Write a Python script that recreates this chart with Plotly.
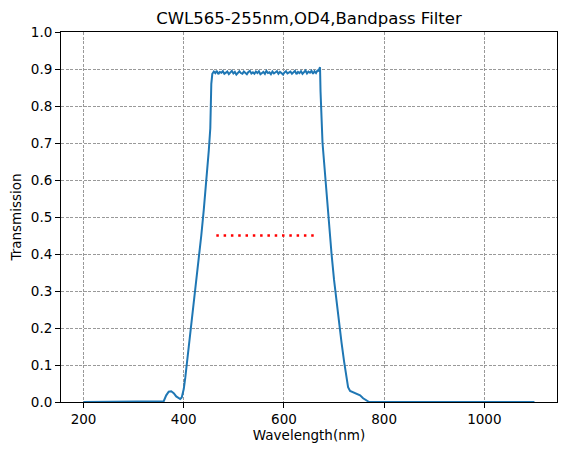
import plotly.graph_objects as go

rise_wl = [200, 355, 360, 365, 370, 375, 380, 385, 390, 393, 396, 400, 403, 406,
           410, 415, 420, 425, 430, 435, 440, 445, 450, 453, 455]
rise_t = [0.0, 0.0, 0.002, 0.018, 0.028, 0.029, 0.024, 0.015, 0.009, 0.008, 0.012,
          0.035, 0.065, 0.10, 0.15, 0.21, 0.27, 0.33, 0.39, 0.45, 0.52, 0.59,
          0.68, 0.74, 0.86]

# passband, sampled every 3 nm from 457 to 667
band_wl = list(range(457, 668, 3))
band_t = [0.887, 0.893, 0.889, 0.895, 0.886, 0.892, 0.890, 0.894, 0.887, 0.891,
          0.893, 0.886, 0.890, 0.895, 0.888, 0.892, 0.885, 0.891, 0.894, 0.889,
          0.887, 0.893, 0.890, 0.886, 0.892, 0.895, 0.888, 0.891, 0.887, 0.893,
          0.889, 0.894, 0.886, 0.890, 0.892, 0.887, 0.895, 0.889, 0.891, 0.886,
          0.893, 0.888, 0.890, 0.894, 0.887, 0.892, 0.889, 0.885, 0.891, 0.894,
          0.888, 0.890, 0.893, 0.887, 0.891, 0.895, 0.886, 0.892, 0.889, 0.894,
          0.887, 0.891, 0.896, 0.888, 0.893, 0.890, 0.895, 0.887, 0.894, 0.889,
          0.896]

fall_wl = [669, 671, 672, 673, 675, 677, 680, 683, 686, 690, 695, 700, 705, 710,
           715, 720, 724, 728, 732, 737, 742, 747, 752, 758, 764, 770, 1100]
fall_t = [0.895, 0.903, 0.905, 0.84, 0.76, 0.70, 0.65, 0.60, 0.54, 0.46, 0.40,
          0.33, 0.27, 0.21, 0.16, 0.11, 0.07, 0.04, 0.03, 0.027, 0.024, 0.022,
          0.018, 0.01, 0.004, 0.0, 0.0]

wavelength = rise_wl + band_wl + fall_wl
transmission = rise_t + band_t + fall_t

# half-maximum marker line
half_wl = [465, 665]
half_t = [0.45, 0.45]

x_ticks = [200, 400, 600, 800, 1000]
y_ticks = [0.0, 0.1, 0.2, 0.3, 0.4, 0.5, 0.6, 0.7, 0.8, 0.9, 1.0]

fig = go.Figure()
fig.add_trace(go.Scatter(x=wavelength, y=transmission, mode="lines",
                         line=dict(color="#1f77b4", width=2)))
fig.add_trace(go.Scatter(x=half_wl, y=half_t, mode="lines",
                         line=dict(color="red", width=2.5, dash="2.5px,4.8px")))

axis_style = dict(showline=True, mirror=True, linecolor="black", linewidth=1,
                  ticks="outside", ticklen=5, tickcolor="black", tickwidth=1,
                  showgrid=True, gridcolor="#999999", gridwidth=0.5, griddash="3px,1.5px",
                  zeroline=False, automargin=False,
                  tickfont=dict(size=13.5, color="black"))

# the page body adds an 8px offset, so the figure is 8px smaller than the window
fig.update_layout(
    width=559, height=447,
    margin=dict(l=53, r=10, t=24, b=53, autoexpand=False),
    paper_bgcolor="white", plot_bgcolor="white",
    showlegend=False,
    font=dict(family="DejaVu Sans", color="black"),
    title=dict(text="CWL565-255nm,OD4,Bandpass Filter", x=0.5, xref="paper",
               y=1 - 10 / 447, yanchor="middle", font=dict(size=16.5, color="black")),
    xaxis=dict(range=[155, 1145], tickvals=x_ticks, ticktext=[str(v) for v in x_ticks],
               title=dict(text="Wavelength(nm)", font=dict(size=13.5), standoff=4),
               **axis_style),
    yaxis=dict(range=[0, 1], tickvals=y_ticks, ticktext=["%.1f" % v for v in y_ticks],
               title=dict(text="Transmission", font=dict(size=13.5), standoff=7),
               **axis_style),
)

fig.write_html("out.html")
